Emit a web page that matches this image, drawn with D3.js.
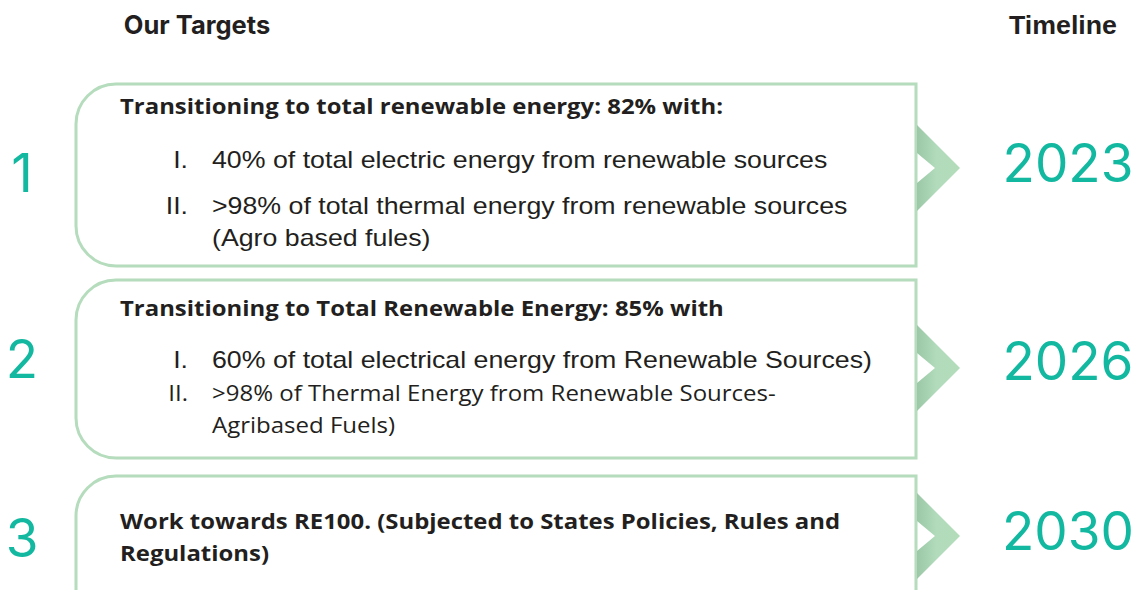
<!DOCTYPE html>
<html>
<head>
<meta charset="utf-8">
<script src="https://cdn.jsdelivr.net/npm/d3@7"></script>
<style>
  html, body { margin: 0; padding: 0; background: #ffffff; }
  svg { display: block; }
</style>
</head>
<body>
<svg id="chart" width="1135" height="590"></svg>
<script>
// ---- data ----
const columnTitles = ["Our Targets", "Timeline"];
const rowNumbers = ["1", "2", "3"];
const years = ["2023", "2026", "2030"];
const headings = [
  ["Transitioning to total renewable energy: 82% with:"],
  ["Transitioning to Total Renewable Energy: 85% with"],
  ["Work towards RE100. (Subjected to States Policies, Rules and", "Regulations)"]
];
const itemMarkers = [["I.", "II."], ["I.", "II."], []];
const itemTexts = [
  [["40% of total electric energy from renewable sources"],
   [">98% of total thermal energy from renewable sources", "(Agro based fules)"]],
  [["60% of total electrical energy from Renewable Sources)"],
   [">98% of Thermal Energy from Renewable Sources-", "Agribased Fuels)"]],
  []
];

// ---- layout ----
const svg = d3.select("#chart");
const green = "#b5dcbc";
const teal = "#13b8a0";
const ink = "#231f20";

const rowIdx = d3.scaleLinear().domain([0, 1]).range([84, 280]); // top of each box
const boxH = [182, 178, 200];
const boxX0 = 76, boxX1 = 916, radius = 40;
const chevronMid = [168, 368, 536];
const numberBase = [192, 378, 557];
const yearBase = [182, 380, 550];
const headBase = [[114], [316], [529, 561]];
const itemBase = [[[168], [214, 246]], [[368], [401, 433]], []];

const styles = {
  head:  { font: "700 22px 'Open Sans', sans-serif", sx: 1.087 },
  arial: { font: "400 23px 'Liberation Sans', Arial, sans-serif", sx: 1.163 },
  open:  { font: "400 21px 'Open Sans', sans-serif", sx: 1.144 }
};
const itemStyle = [["arial", "arial"], ["arial", "open"], []];

function stretchedText(g, x, y, text, st, anchor) {
  return g.append("text")
    .attr("transform", `translate(${x},${y}) scale(${st.sx},1)`)
    .attr("text-anchor", anchor || "start")
    .style("font", st.font).attr("fill", ink).text(text);
}

const defs = svg.append("defs");
const grad = defs.append("linearGradient").attr("id", "chevGrad")
  .attr("x1", "0").attr("x2", "1").attr("y1", "0").attr("y2", "0");
grad.append("stop").attr("offset", "0").attr("stop-color", "#9cc8a8");
grad.append("stop").attr("offset", "0.45").attr("stop-color", "#b1dbba");
grad.append("stop").attr("offset", "1").attr("stop-color", "#b3dcbb");

// column titles
svg.append("text").attr("x", 197).attr("y", 34).attr("text-anchor", "middle")
  .style("font", "700 25.5px Inter, sans-serif").attr("fill", ink).text(columnTitles[0]);
stretchedText(svg, 1063, 34, columnTitles[1],
  { font: "700 25px 'Liberation Sans', Arial, sans-serif", sx: 1.07 }, "middle");

const rows = svg.selectAll("g.row").data(rowNumbers).join("g").attr("class", "row");

// boxes (left corners rounded)
rows.append("path")
  .attr("d", (d, i) => {
    const y0 = rowIdx(i), y1 = y0 + boxH[i], r = radius;
    return `M${boxX0 + r},${y0} H${boxX1} V${y1} H${boxX0 + r} A${r},${r} 0 0 1 ${boxX0},${y1 - r} V${y0 + r} A${r},${r} 0 0 1 ${boxX0 + r},${y0} Z`;
  })
  .attr("fill", "#ffffff").attr("stroke", green).attr("stroke-width", 3);

// chevrons
rows.append("path")
  .attr("d", (d, i) => {
    const c = chevronMid[i], x0 = boxX1 + 1;
    return `M${x0},${c - 43} L${x0 + 43},${c} L${x0},${c + 43} L${x0},${c + 15} L${x0 + 18},${c} L${x0},${c - 15} Z`;
  })
  .attr("fill", "url(#chevGrad)");

// numbers
rows.append("text").attr("x", 22).attr("y", (d, i) => numberBase[i])
  .attr("text-anchor", "middle")
  .style("font", "400 53px Inter, sans-serif").attr("fill", teal).text(d => d);

// years
rows.append("text").attr("x", 1068).attr("y", (d, i) => yearBase[i])
  .attr("text-anchor", "middle")
  .style("font", "400 53px Inter, sans-serif").attr("fill", teal).text((d, i) => years[i]);

// headings and items
rows.each(function (d, i) {
  const g = d3.select(this);
  headings[i].forEach((line, j) => {
    stretchedText(g, 120, headBase[i][j], line, styles.head);
  });
  itemMarkers[i].forEach((m, k) => {
    const st = styles[itemStyle[i][k]];
    stretchedText(g, 188, itemBase[i][k][0], m, st, "end");
    itemTexts[i][k].forEach((line, j) => {
      stretchedText(g, 212, itemBase[i][k][j], line, st);
    });
  });
});
</script>
</body>
</html>
